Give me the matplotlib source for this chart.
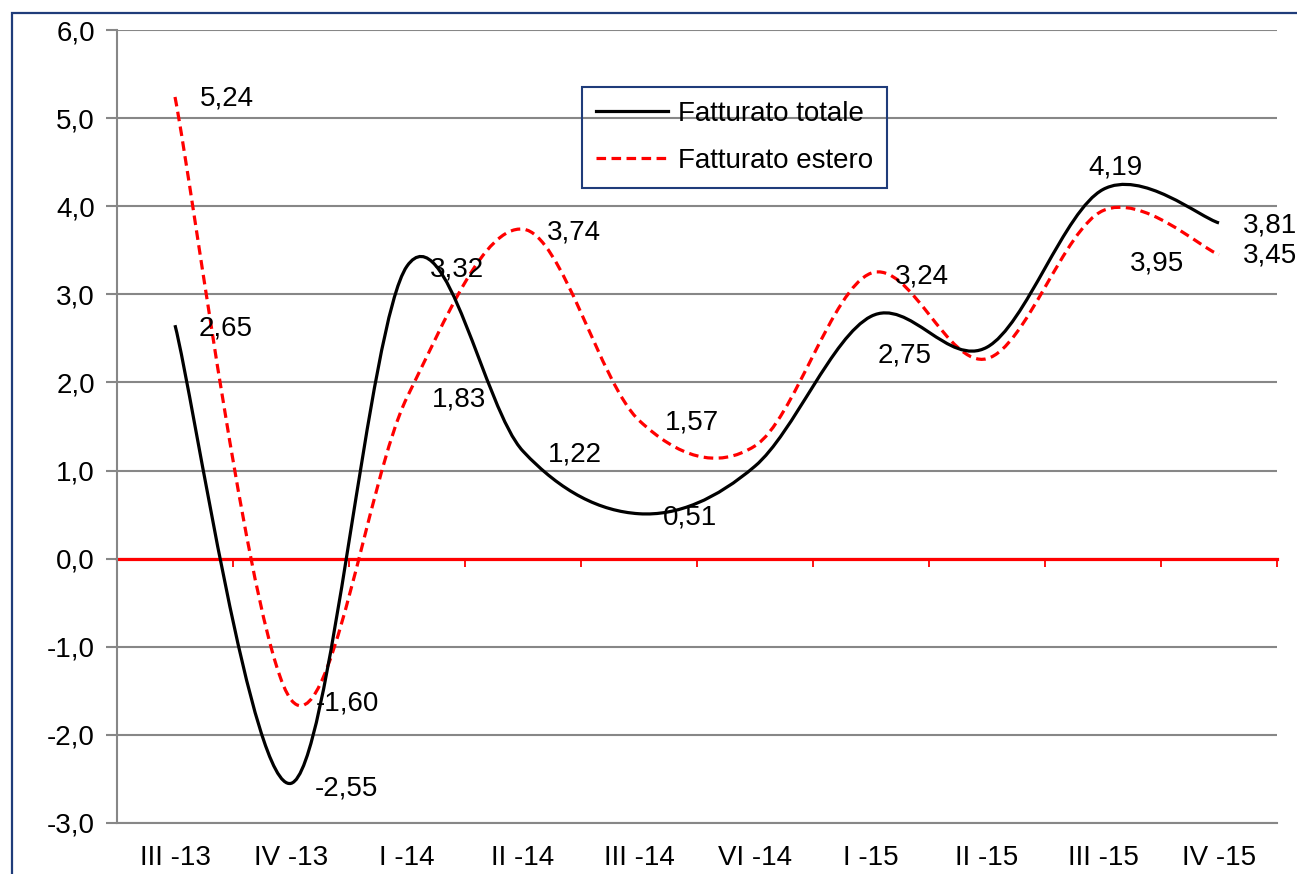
import matplotlib
matplotlib.use("Agg")
import matplotlib.pyplot as plt
from matplotlib.path import Path
from matplotlib.patches import PathPatch, Rectangle
from matplotlib.lines import Line2D
from matplotlib.ticker import FuncFormatter

plt.rcParams['font.family'] = ['Liberation Sans', 'DejaVu Sans']

# data
quarters = ['III -13', 'IV -13', 'I -14', 'II -14', 'III -14', 'VI -14', 'I -15', 'II -15', 'III -15', 'IV -15']
totale = [2.65, -2.55, 3.32, 1.22, 0.51, 1.05, 2.75, 2.40, 4.19, 3.81]
estero = [5.24, -1.60, 1.83, 3.74, 1.57, 1.28, 3.24, 2.27, 3.95, 3.45]

# label offsets in pixels (dx to the left edge, dy down); None = no label
off_totale = [(24, 3), (24, 5), (23, 3), (25, 3), (24, 4), None, (7, 39), None, (-15, -22), (24, 3)]
off_estero = [(25, 2), (25, 4), (25, 2), (24, 3), (26, 2), None, (24, 3), None, (27, 53), (24, 1)]

NAVY = '#1F3C7A'
GRID = '#878787'


def smooth_path(xs, ys):
    # Excel-like smoothed line: cubic bezier through each point
    pts = list(zip(xs, ys))
    n = len(pts)
    verts = [pts[0]]
    codes = [Path.MOVETO]
    for i in range(n - 1):
        p0 = pts[i - 1] if i > 0 else pts[i]
        p1 = pts[i]
        p2 = pts[i + 1]
        p3 = pts[i + 2] if i + 2 < n else pts[i + 1]
        c1 = (p1[0] + (p2[0] - p0[0]) / 6, p1[1] + (p2[1] - p0[1]) / 6)
        c2 = (p2[0] - (p3[0] - p1[0]) / 6, p2[1] - (p3[1] - p1[1]) / 6)
        verts += [c1, c2, p2]
        codes += [Path.CURVE4] * 3
    return Path(verts, codes)


fig = plt.figure(figsize=(12.97, 8.74), dpi=100)
ax = fig.add_axes([117 / 1297, 1 - 823 / 874, 1160 / 1297, 793 / 874])

x = list(range(len(quarters)))

ax.add_patch(PathPatch(smooth_path(x, estero), fill=False, edgecolor='#FF0000',
                       lw=2.3, linestyle=(0, (3, 1.7)), zorder=3))
ax.add_patch(PathPatch(smooth_path(x, totale), fill=False, edgecolor='black',
                       lw=2.3, zorder=4))

ax.set_xlim(-0.5, len(quarters) - 0.5)
ax.set_ylim(-3, 6)
ax.set_yticks(range(-3, 7))
ax.yaxis.set_major_formatter(FuncFormatter(lambda v, p: f"{v:.1f}".replace('.', ',')))
ax.set_xticks(x)
ax.set_xticklabels(quarters)
ax.tick_params(axis='x', length=0, labelsize=20, pad=16)
ax.tick_params(axis='y', length=8, width=1.5, color=GRID, labelsize=20, pad=8)
ax.grid(axis='y', color=GRID, lw=1.5)
ax.set_axisbelow(True)
for s in ['top', 'right']:
    ax.spines[s].set_visible(False)
for s in ['left', 'bottom']:
    ax.spines[s].set_color(GRID)
    ax.spines[s].set_linewidth(1.5)

# red zero axis with category tick marks
zero = ax.secondary_xaxis(3 / 9)
zero.set_zorder(2)
zero.spines['bottom'].set_color('#FF0000')
zero.spines['bottom'].set_linewidth(2.3)
zero.set_xticks([i - 0.5 for i in range(len(quarters) + 1)])
zero.tick_params(axis='x', length=6, width=1.3, color='#FF0000', direction='out', labelbottom=False)

# data labels
for vals, offs in [(totale, off_totale), (estero, off_estero)]:
    for xi, v, o in zip(x, vals, offs):
        if o is None:
            continue
        ax.annotate(f"{v:.2f}".replace('.', ','), (xi, v), xytext=(o[0], -o[1]),
                    textcoords='offset pixels', ha='left', va='center', fontsize=20,
                    zorder=5)

handles = [Line2D([], [], color='black', lw=2.3),
           Line2D([], [], color='#FF0000', lw=2.3, linestyle=(0, (3, 1.7)))]
leg = ax.legend(handles, ['Fatturato totale', 'Fatturato estero'], loc='upper left',
                bbox_to_anchor=((582 - 117) / 1160, (823 - 87) / 793),
                fontsize=20, frameon=True, fancybox=False, framealpha=1,
                handlelength=2.6, handletextpad=0.35, borderpad=0.5,
                labelspacing=0.75, borderaxespad=0)
leg.get_frame().set_facecolor('none')
leg.get_frame().set_edgecolor(NAVY)
leg.get_frame().set_linewidth(1.5)

# outer chart border
fig.patches.append(Rectangle((12 / 1297, -0.2), 2, 1.2 - 13 / 874, transform=fig.transFigure,
                             fill=False, edgecolor=NAVY, lw=1.6))

fig.savefig('out.png', dpi=100)
